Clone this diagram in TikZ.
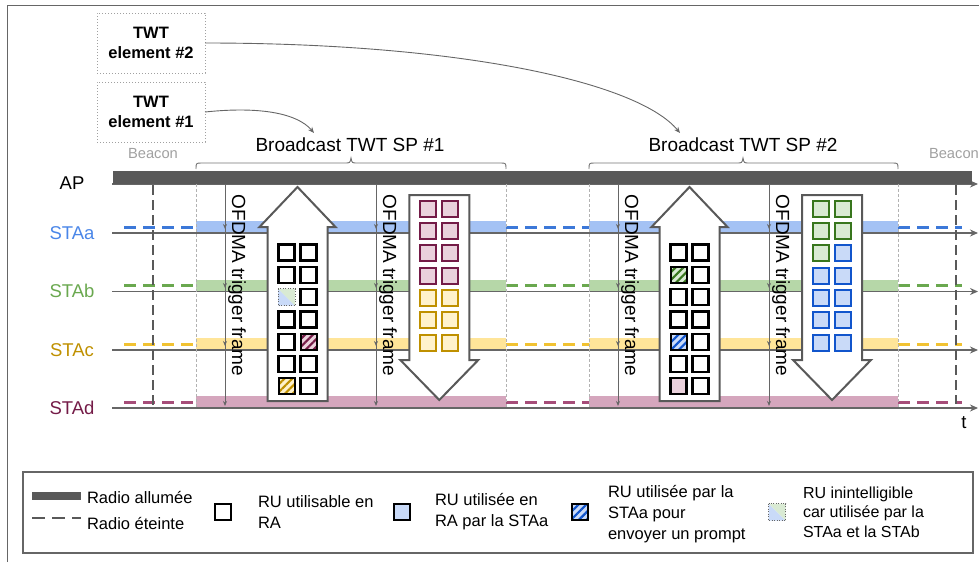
\documentclass[tikz,border=0pt]{standalone}
\usepackage{fontspec}
\setmainfont{Liberation Sans}
\usetikzlibrary{arrows.meta,patterns.meta,decorations.markings}
\definecolor{dk}{HTML}{595959}
\definecolor{ax}{HTML}{666666}
\definecolor{beac}{HTML}{A0A0A0}
\definecolor{laa}{HTML}{4A86E8}
\definecolor{dsa}{HTML}{3C78D8}
\definecolor{bda}{HTML}{A4C2F4}
\definecolor{lab}{HTML}{6AA84F}
\definecolor{dsb}{HTML}{6AA84F}
\definecolor{bdb}{HTML}{B6D7A8}
\definecolor{lac}{HTML}{BF9000}
\definecolor{dsc}{HTML}{F1C232}
\definecolor{bdc}{HTML}{FFE599}
\definecolor{lad}{HTML}{741B47}
\definecolor{dsd}{HTML}{A64D79}
\definecolor{bdd}{HTML}{D5A6BD}
\definecolor{pu}{HTML}{741B47}
\definecolor{pul}{HTML}{EAD1DC}
\definecolor{ye}{HTML}{BF9000}
\definecolor{yel}{HTML}{FFF2CC}
\definecolor{gr}{HTML}{38761D}
\definecolor{grl}{HTML}{D9EAD3}
\definecolor{bl}{HTML}{1155CC}
\definecolor{bll}{HTML}{C9DAF8}
\begin{document}
\begin{tikzpicture}[x=1pt,y=-1pt,
  every node/.style={inner sep=0pt, outer sep=0pt},
  lbl/.style={font=\fontsize{18.5}{22}\selectfont},
  big/.style={font=\fontsize{19}{23}\selectfont},
  lgd/.style={font=\fontsize{16.5}{21}\selectfont, align=left, anchor=west},
  twtbox/.style={draw=beac, line width=0.8pt, dash pattern=on 1.2pt off 1.8pt,
    minimum width=108pt, minimum height=60pt, align=center,
    font=\bfseries\fontsize{16.5}{20}\selectfont},
  beacontxt/.style={text=beac, font=\fontsize{14.7}{17}\selectfont},
  axisline/.style={draw=ax, line width=1.8pt, -{Stealth[length=8pt,width=7pt]}},
  stadash/.style={line width=3pt, dash pattern=on 12pt off 7pt},
  spdash/.style={draw=gray!60, line width=0.8pt, dash pattern=on 3pt off 2pt},
  beacdash/.style={draw=dk, line width=2.2pt, dash pattern=on 10pt off 5pt},
  brc/.style={draw=ax!90, line width=0.9pt},
  curv/.style={draw=ax, line width=0.9pt, -{Stealth[length=6pt,width=5pt]}},
  trig/.style={draw=ax, line width=0.9pt, -{Stealth[length=5pt,width=4pt]},
    postaction={decorate},
    decoration={markings,
      mark=at position 45pt with {\arrow{Stealth[length=5pt,width=4pt]}},
      mark=at position 104pt with {\arrow{Stealth[length=5pt,width=4pt]}},
      mark=at position 162pt with {\arrow{Stealth[length=5pt,width=4pt]}}}},
  trigtxt/.style={rotate=-90, font=\fontsize{19}{23}\selectfont},
  blockarrow/.style={draw=dk, line width=2pt, fill=white, line join=miter},
  ru/.style={draw=black, line width=2.2pt, fill=white, minimum size=16pt},
  rupk/.style={draw=black, line width=2.2pt, fill=pul, minimum size=16pt},
  rupu/.style={draw=pu, line width=2pt, fill=pul, minimum size=16pt},
  ruye/.style={draw=ye, line width=2pt, fill=yel, minimum size=16pt},
  rugr/.style={draw=gr, line width=2pt, fill=grl, minimum size=16pt},
  rubl/.style={draw=bl, line width=2pt, fill=bll, minimum size=16pt},
  rulb/.style={draw=black, line width=2.2pt, fill=bll, minimum size=16pt},
  hatch/.style 2 args={minimum size=16pt, fill=#2,
    postaction={pattern={Lines[angle=45,distance=5.5pt,line width=2.2pt]}, pattern color=#1},
    postaction={draw=black, line width=2pt}},
  mixcell/.style={minimum size=17pt},
  dotb/.style={draw=ax, line width=0.8pt, dash pattern=on 1pt off 1.5pt}
]
\useasboundingbox (0,0) rectangle (979,562);

% outer frame
\draw[ax, line width=1pt] (7,562) -- (7,5) -- (979,5);

% bands
\fill[bda] (196,221) rectangle (506,233);
\fill[bda] (589,221) rectangle (898,233);
\fill[bdb] (196,279.5) rectangle (506,291.5);
\fill[bdb] (589,279.5) rectangle (898,291.5);
\fill[bdc] (196,338) rectangle (506,350);
\fill[bdc] (589,338) rectangle (898,350);
\fill[bdd] (196,396) rectangle (506,408);
\fill[bdd] (589,396) rectangle (898,408);

% station dashed (radio off)
\foreach \a/\b in {124/196,506/589,898/962}{
  \draw[stadash, draw=dsa] (\a,227) -- (\b,227);
  \draw[stadash, draw=dsb] (\a,285.5) -- (\b,285.5);
  \draw[stadash, draw=dsc] (\a,344) -- (\b,344);
  \draw[stadash, draw=dsd] (\a,402) -- (\b,402);
}

% axis lines
\foreach \y in {184,233,291.5,350,408}
  \draw[axisline] (112,\y) -- (978,\y);

% SP boundaries
\foreach \x in {196,506,589,898}
  \draw[spdash] (\x,184) -- (\x,408);

% beacon lines
\draw[beacdash] (153,185) -- (153,406);
\draw[beacdash] (956,185) -- (956,404);

% AP bar
\fill[dk] (113,171) rectangle (972,184);

% labels
\node[lbl] (ap) at (72,183) {AP};
\node[lbl, text=laa] (sa) at (72,233) {STAa};
\node[lbl, text=lab] (sb) at (72,291) {STAb};
\node[lbl, text=lac] (sc) at (72,350) {STAc};
\node[lbl, text=lad] (sd) at (72,408) {STAd};
\node[lbl] (tl) at (964,423) {t};

% beacon labels
\node[beacontxt] (bc1) at (153,154) {Beacon};
\node[beacontxt, anchor=west] (bc2) at (929,154) {Beacon};

% TWT element boxes
\node[twtbox] (t2) at (151,43) {TWT\\element \#2};
\node[twtbox] (t1) at (151,112) {TWT\\element \#1};

% braces and SP labels
\draw[brc] (196,169) .. controls (196,163) .. (202,163) -- (345,163)
  .. controls (350,163) .. (351,158) .. controls (352,163) .. (357,163)
  -- (500,163) .. controls (506,163) .. (506,169);
\draw[brc] (589,169) .. controls (589,163) .. (595,163) -- (737,163)
  .. controls (742,163) .. (743,158) .. controls (744,163) .. (749,163)
  -- (892,163) .. controls (898,163) .. (898,169);
\node[big] (sp1) at (350,145) {Broadcast TWT SP \#1};
\node[big] (sp2) at (743,145) {Broadcast TWT SP \#2};

% curved arrows
\coordinate (e1) at (314,133);
\coordinate (e2) at (680,133);
\draw[curv] (t1.east) .. controls (262,106) and (298,114) .. (e1);
\draw[curv] (t2.east) .. controls (460,43) and (638,82) .. (e2);

% trigger frames
\foreach \x/\n in {225/a,376/b,618/c,769/d}{
  \draw[trig] (\x,184) -- (\x,406);
  \node[trigtxt] (tt\n) at (\x+12,285.5) {OFDMA trigger frame};
}

% block arrows
\foreach \c in {297.5,689.5}
  \draw[blockarrow] (\c,187) -- (\c+38,227) -- (\c+30,227) -- (\c+30,401)
    -- (\c-30,401) -- (\c-30,227) -- (\c-38,227) -- cycle;
\foreach \c in {439.3,832}
  \draw[blockarrow] (\c-30,195) -- (\c+30,195) -- (\c+30,360) -- (\c+39,360)
    -- (\c,400) -- (\c-39,360) -- (\c-30,360) -- cycle;

% SP1 up-arrow cells
\foreach \c/\r in {0/0,1/0,0/1,1/1,1/2,0/3,1/3,0/4,0/5,1/5,1/6}
  \node[ru] (ua\c\r) at ({286.5+22*\c},{252.5+22.3*\r}) {};
\node[mixcell] (ua02) at (286.5,297.1) {};
\fill[bll] (ua02.north west) -- (ua02.south west) -- (ua02.south east) -- cycle;
\fill[grl] (ua02.north west) -- (ua02.north east) -- (ua02.south east) -- cycle;
\draw[dotb] (ua02.north west) rectangle (ua02.south east);
\node[hatch={pu}{pul}] (ua14) at (308.5,341.7) {};
\node[hatch={ye}{yel}] (ua06) at (286.5,386.3) {};

% SP1 down-arrow cells
\foreach \r in {0,1,2,3}
  \foreach \c in {0,1}
    \node[rupu] (da\c\r) at ({428.3+22*\c},{208.7+22.3*\r}) {};
\foreach \r in {4,5,6}
  \foreach \c in {0,1}
    \node[ruye] (da\c\r) at ({428.3+22*\c},{208.7+22.3*\r}) {};

% SP2 up-arrow cells
\foreach \c/\r in {0/0,1/0,1/1,0/2,1/2,0/3,1/3,1/4,0/5,1/5,1/6}
  \node[ru] (ub\c\r) at ({678.5+22*\c},{252.5+22.3*\r}) {};
\node[hatch={gr}{grl}] (ub01) at (678.5,274.8) {};
\node[hatch={bl}{bll}] (ub04) at (678.5,341.7) {};
\node[rupk] (ub06) at (678.5,386.3) {};

% SP2 down-arrow cells
\foreach \c/\r in {0/0,1/0,0/1,1/1,0/2}
  \node[rugr] (db\c\r) at ({821+22*\c},{208.7+22.3*\r}) {};
\foreach \c/\r in {1/2,0/3,1/3,0/4,1/4,0/5,1/5,0/6,1/6}
  \node[rubl] (db\c\r) at ({821+22*\c},{208.7+22.3*\r}) {};

% legend
\draw[draw=ax, line width=1.8pt] (23,472) rectangle (973,553);
\fill[dk] (32,492) rectangle (81,500);
\draw[draw=dk, line width=2.2pt, dash pattern=on 13pt off 7pt] (32,518) -- (81,518);
\node[lgd] (lt1) at (87,497) {Radio allumée};
\node[lgd] (lt2) at (87,523) {Radio éteinte};
\node[ru] (lq1) at (223,512) {};
\node[lgd] (lt3) at (258,512) {RU utilisable en\\RA};
\node[rulb] (lq2) at (402,512) {};
\node[lgd] (lt4) at (435,512) {RU utilisée en\\RA par la STAa};
\node[hatch={bl}{bll}] (lq3) at (580,512) {};
\node[lgd] (lt5) at (608,514) {RU utilisée par la\\STAa pour\\envoyer un prompt};
\node[mixcell] (lq4) at (777,512) {};
\fill[bll] (lq4.north west) -- (lq4.south west) -- (lq4.south east) -- cycle;
\fill[grl] (lq4.north west) -- (lq4.north east) -- (lq4.south east) -- cycle;
\draw[dotb] (lq4.north west) rectangle (lq4.south east);
\node[lgd, font=\fontsize{16}{19.5}\selectfont] (lt6) at (803,512) {RU inintelligible\\car utilisée par la\\STAa et la STAb};
\end{tikzpicture}
\end{document}
